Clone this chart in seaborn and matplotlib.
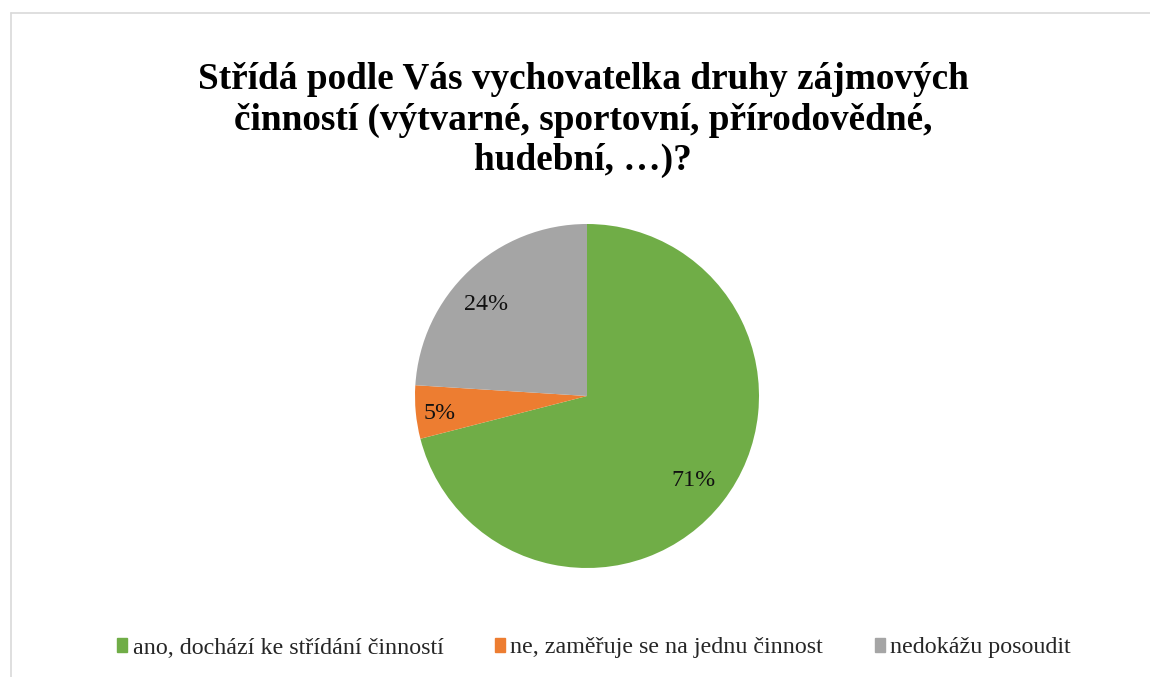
import matplotlib
matplotlib.use("Agg")
import matplotlib.pyplot as plt
import seaborn as sns
import numpy as np
from matplotlib.patches import Rectangle

categories = ["ano, dochází ke střídání činností",
              "ne, zaměřuje se na jednu činnost",
              "nedokážu posoudit"]
values = [71, 5, 24]
colors = ["#70AD47", "#ED7D31", "#A5A5A5"]
title = "Střídá podle Vás vychovatelka druhy zájmových\nčinností (výtvarné, sportovní, přírodovědné,\nhudební, …)?"

sns.set_theme(style="white")
plt.rcParams['font.family'] = ['Liberation Serif', 'DejaVu Serif']

fig = plt.figure(figsize=(11.5, 6.77), dpi=100)
# pie axes: center (587,396), radius 172 px
r = 172
cx, cy = 587, 396
W, H = 1150, 677
ax = fig.add_axes([(cx - r) / W, (H - cy - r) / H, 2 * r / W, 2 * r / H])
wedges, texts, autotexts = ax.pie(values, colors=colors, startangle=90, counterclock=False,
                                  autopct="%d%%", pctdistance=0.8,
                                  wedgeprops=dict(linewidth=0),
                                  textprops=dict(fontsize=17.3, color="#111111"))
ax.set_xlim(-1, 1)
ax.set_ylim(-1, 1)
ax.set_aspect("equal")
# label placement (distance fraction, angle offset in degrees)
label_adj = [(0.79, -0.6), (0.86, 1.2), (0.79, 4.6)]
for w, t, (d, da) in zip(wedges, autotexts, label_adj):
    ang = np.deg2rad((w.theta1 + w.theta2) / 2 + da)
    t.set_position((d * np.cos(ang), d * np.sin(ang)))

fig.text(583 / W, 1 - 120 / H, title, ha="center", va="center", fontsize=26.8,
         fontweight="bold", linespacing=1.2, color="black")

handles = [Rectangle((0, 0), 1, 1, color=c) for c in colors]
leg = fig.legend(handles, categories, loc="center", bbox_to_anchor=(594 / W, 1 - 648 / H),
                 ncol=3, frameon=False, fontsize=17.3, handlelength=0.42, handleheight=0.55,
                 handletextpad=0.22, columnspacing=2.15)

# chart border (top and left visible)
fig.add_artist(plt.Line2D([10.5 / W, 10.5 / W], [0, 1 - 13 / H], color="#d9d9d9", lw=1.2,
                          transform=fig.transFigure))
fig.add_artist(plt.Line2D([10.5 / W, 1], [1 - 13 / H, 1 - 13 / H], color="#d9d9d9", lw=1.2,
                          transform=fig.transFigure))

fig.savefig("out.png", dpi=100, facecolor="white")
